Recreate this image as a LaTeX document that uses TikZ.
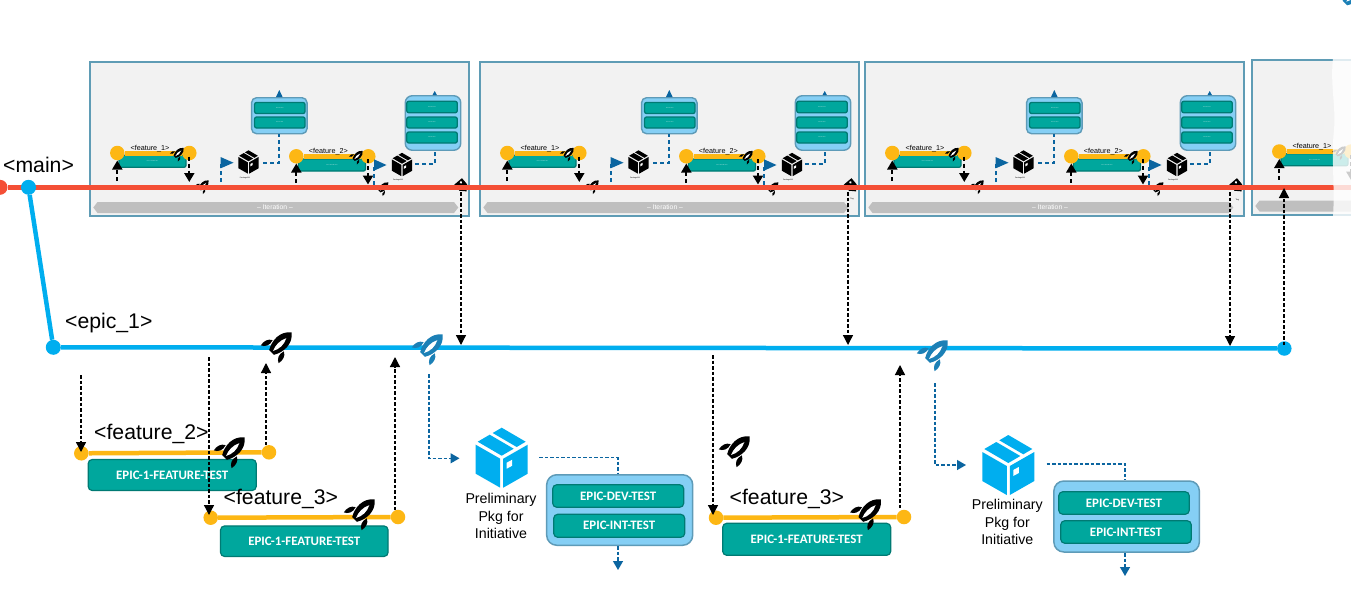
\documentclass[tikz,border=0pt]{standalone}
\usepackage{fontspec}
\setmainfont{Liberation Sans}
\newfontfamily\carlitofam{Carlito}
\usetikzlibrary{arrows.meta}
\definecolor{redline}{HTML}{F44F36}
\definecolor{epicblue}{HTML}{00AEEF}
\definecolor{featorange}{HTML}{FDB714}
\definecolor{tealfill}{HTML}{00A79D}
\definecolor{tealedge}{HTML}{007A73}
\definecolor{contfill}{HTML}{85CFF5}
\definecolor{contedge}{HTML}{5E9BB8}
\definecolor{panelfill}{HTML}{F2F2F2}
\definecolor{paneledge}{HTML}{5F9CB5}
\definecolor{barfill}{HTML}{BFBFBF}
\definecolor{flowblue}{HTML}{0B65A0}
\definecolor{rockblue}{HTML}{1C80B6}
\tikzset{
  dot/.style={circle,inner sep=0pt,minimum size=#1},
  tealbig/.style={draw=tealedge,fill=tealfill,line width=1.2pt,rounded corners=4pt,inner sep=0pt,text=white,font=\carlitofam\bfseries\fontsize{12.9}{14}\selectfont},
  tealsmall/.style={draw=tealedge,fill=tealfill,line width=1.3pt,rounded corners=2pt,inner sep=0pt,text=white,font=\fontsize{1}{1}\selectfont},
  contbox/.style={draw=contedge,fill=contfill,rounded corners=#1,inner sep=0pt},
  blackflow/.style={draw=black,line width=1.3pt,dash pattern=on 3.5pt off 2pt,-{Triangle[length=10pt,width=10pt]}},
  blacksmall/.style={draw=black,line width=2pt,dash pattern=on 4pt off 3pt,-{Triangle[length=9pt,width=10pt]}},
  blueflow/.style={draw=flowblue,line width=1.3pt,dash pattern=on 3.5pt off 2pt,-{Triangle[length=9pt,width=10pt]}},
  blueplain/.style={draw=flowblue,line width=1.3pt,dash pattern=on 3.5pt off 2pt},
  bluesmall/.style={draw=flowblue,line width=1.7pt,dash pattern=on 4pt off 3pt},
  biglabel/.style={inner sep=0pt,font=\fontsize{21.2}{23}\selectfont},
  smalllabel/.style={inner sep=0pt,font=\fontsize{7.2}{8}\selectfont},
  pkglabel/.style={align=center,inner sep=0pt,font=\fontsize{14.2}{17.5}\selectfont},
  itertext/.style={inner sep=0pt,text=white,font=\fontsize{6.8}{8}\selectfont},
  pics/rocket/.style={code={
    \fill[#1] (0,-17) .. controls (9,-10) and (8,2) .. (3.2,10) -- (-3.2,10) .. controls (-8,2) and (-9,-10) .. (0,-17) -- cycle;
    \fill[white] (0.3,-9.5) .. controls (3.4,-4) and (3,3) .. (0,8) .. controls (-2.4,3) and (-2.6,-4) .. (0.3,-9.5) -- cycle;
    \fill[#1] (-7.5,1) .. controls (-12,3) and (-13,8) .. (-12,12.5) .. controls (-8.5,11) and (-5.5,7) .. (-7.5,1) -- cycle;
    \fill[#1] (7.5,1) .. controls (12,3) and (13,8) .. (12,12.5) .. controls (8.5,11) and (5.5,7) .. (7.5,1) -- cycle;
  }},
  pics/cube/.style={code={
    \fill[#1] (0,-30) -- (24,-16) -- (15,-10.7) -- (-9,-24.7) -- cycle;
    \fill[#1] (-12,-23) -- (12,-9) -- (0,-2) -- (-24,-16) -- cycle;
    \fill[#1] (-26,-13) -- (-1.5,1) -- (-1.5,30) -- (-26,16) -- cycle;
    \fill[#1] (26,-13) -- (1.5,1) -- (1.5,30) -- (26,16) -- cycle;
    \fill[white] (5,5) -- (10.5,2) -- (10.5,8) -- (5,11) -- cycle;
  }},
  pics/tagmark/.style={code={
    \fill[black] (-6,-5) -- (2,-5) -- (7,0) -- (2,5) -- (-6,5) -- cycle;
    \fill[white] (-3.5,-1.5) circle (1.3);
  }},
  pics/panel/.style={code={
    \node[draw=paneledge,fill=panelfill,line width=1.6pt,minimum width=379.5pt,minimum height=154.5pt,inner sep=0pt] (-frame) at (279.5,139) {};
    \fill[barfill] (93.3,207.5) -- (97.5,202) -- (454,202) -- (458.3,207.5) -- (454,213) -- (97.5,213) -- cycle;
    \node[itertext] (-iter) at (275,207.5) {-- Iteration --};
    \node[tealsmall,minimum width=67pt,minimum height=12pt] (-t1) at (152.5,161.3) {EPIC-1-FEATURE-TEST};
    \node[dot=14.5pt,fill=featorange] (-a1) at (117.3,153) {};
    \node[dot=14.5pt,fill=featorange] (-b1) at (189.3,153) {};
    \draw[featorange,line width=5pt] (-a1) -- (-b1);
    \node[smalllabel] (-l1) at (150,148.6) {<feature\_1>};
    \coordinate (-u1) at (117.3,181);
    \coordinate (-u1e) at (117.3,160.5);
    \coordinate (-d1) at (189.3,156.5);
    \coordinate (-d1e) at (189.3,182);
    \draw[blacksmall] (-u1) -- (-u1e);
    \draw[blacksmall] (-d1) -- (-d1e);
    \pic[rotate=-45,scale=.47] at (178,153.5) {rocket=black};
    \pic[rotate=-45,scale=.47] at (203,186) {rocket=black};
    \coordinate (-f1) at (221,182);
    \coordinate (-f1c) at (221,162.7);
    \draw[bluesmall] (-f1) -- (-f1c);
    \fill[flowblue] (220.5,157) -- (233.5,162.7) -- (220.5,168.4) -- cycle;
    \pic[scale=.39] at (248.5,162) {cube=black};
    \node[inner sep=0pt,font=\fontsize{1.8}{2}\selectfont] (-k1) at (245,177.8) {Package001};
    \node[contbox=5pt,line width=1.4pt,minimum width=55.5pt,minimum height=36pt] (-c1) at (279.3,115.7) {};
    \node[tealsmall,minimum width=50.5pt,minimum height=11pt] (-c1a) at (279.8,108) {EPIC-DEV-TEST};
    \node[tealsmall,minimum width=50.5pt,minimum height=11pt] (-c1b) at (279.8,122.5) {EPIC-INT-TEST};
    \coordinate (-e1) at (263.3,162.7);
    \draw[bluesmall] (-e1) -- (279.3,162.7) -- (-c1.south);
    \fill[flowblue] (276,97) -- (279.3,90) -- (282.6,97) -- cycle;
    \node[tealsmall,minimum width=67pt,minimum height=12pt] (-t2) at (332,165) {EPIC-1-FEATURE-TEST};
    \node[dot=14.5pt,fill=featorange] (-a2) at (296.3,156.3) {};
    \node[dot=14.5pt,fill=featorange] (-b2) at (368.3,156.3) {};
    \draw[featorange,line width=5pt] (-a2) -- (-b2);
    \node[smalllabel] (-l2) at (328.3,151.6) {<feature\_2>};
    \coordinate (-u2) at (296.3,182.5);
    \coordinate (-u2e) at (296.3,163.5);
    \coordinate (-d2) at (368,159);
    \coordinate (-d2e) at (368,184.5);
    \draw[blacksmall] (-u2) -- (-u2e);
    \draw[blacksmall] (-d2) -- (-d2e);
    \pic[rotate=-45,scale=.47] at (357,156.5) {rocket=black};
    \pic[rotate=-45,scale=.47] at (382.7,188) {rocket=black};
    \coordinate (-f2) at (374,185);
    \coordinate (-f2c) at (374,165);
    \draw[bluesmall] (-f2) -- (-f2c);
    \fill[flowblue] (374,159.3) -- (386.5,165) -- (374,170.7) -- cycle;
    \pic[scale=.39] at (402,164.5) {cube=black};
    \node[inner sep=0pt,font=\fontsize{1.8}{2}\selectfont] (-k2) at (398,180) {Package002};
    \node[contbox=7pt,line width=1.4pt,minimum width=55.5pt,minimum height=54.5pt] (-c2) at (433,123) {};
    \node[tealsmall,minimum width=50.5pt,minimum height=11.5pt] (-c2a) at (432,107) {EPIC-DEV-TEST};
    \node[tealsmall,minimum width=50.5pt,minimum height=11pt] (-c2b) at (432,122.5) {EPIC-INT-TEST};
    \node[tealsmall,minimum width=50.5pt,minimum height=11pt] (-c2c) at (432,137.5) {EPIC-INT-TEST};
    \coordinate (-e2) at (415,164.3);
    \draw[bluesmall] (-e2) -- (434.7,164.3) -- (434.7,150.5);
    \fill[flowblue] (432.5,95) -- (434.7,91) -- (436.9,95) -- cycle;
  }},
  pics/lastpanel/.style={code={
    \node[draw=paneledge,fill=panelfill,line width=1.6pt,minimum width=379.5pt,minimum height=154.5pt,inner sep=0pt] (-frame) at (279.5,139) {};
    \fill[barfill] (93.3,207.5) -- (97.5,202) -- (300,202) -- (300,213) -- (97.5,213) -- cycle;
    \node[tealsmall,minimum width=67pt,minimum height=12pt] (-t1) at (152.5,161.3) {EPIC-1-FEATURE-TEST};
    \node[dot=14.5pt,fill=featorange] (-a1) at (117.3,153) {};
    \node[dot=14.5pt,fill=featorange] (-b1) at (189.3,153) {};
    \draw[featorange,line width=5pt] (-a1) -- (-b1);
    \node[smalllabel] (-l1) at (150,148.6) {<feature\_1>};
    \coordinate (-u1) at (117.3,181);
    \coordinate (-u1e) at (117.3,160.5);
    \coordinate (-d1) at (189.3,156.5);
    \coordinate (-d1e) at (189.3,182);
    \draw[blacksmall] (-u1) -- (-u1e);
    \draw[blacksmall] (-d1) -- (-d1e);
    \pic[rotate=-45,scale=.47] at (178,153.5) {rocket=black};
  }}
}
\begin{document}
\begin{tikzpicture}[x=1pt,y=-1pt,line cap=butt]
\clip (0,0) rectangle (1351,613);
\fill[white] (0,0) rectangle (1351,613);
\pic[rotate=-45] at (1352,-4) {rocket=rockblue};
\pic (pa) at (0,0) {panel};
\begin{scope}[shift={(390,0)}] \pic (pb) at (0,0) {panel}; \end{scope}
\begin{scope}[shift={(775,0)}] \pic (pc) at (0,0) {panel}; \end{scope}
\begin{scope}[shift={(1162,-1.5)}] \pic (pd) at (0,0) {lastpanel}; \end{scope}
\pic[rotate=-50] at (462,186) {tagmark};
\pic[rotate=-50] at (851.5,186) {tagmark};
\pic[rotate=-50] at (1237,186) {tagmark};
\node[inner sep=0pt,font=\fontsize{2}{2}\selectfont] (tg2) at (852,199.5) {Tag};
\node[inner sep=0pt,font=\fontsize{2}{2}\selectfont] (tg3) at (1237.3,200) {Tag};
\node[dot=15pt,fill=redline] (mstart) at (0,187.3) {};
\coordinate (mend) at (1351,187.3);
\draw[redline,line width=5pt] (mstart) -- (mend);
\node[biglabel,anchor=west] (mainl) at (3,165) {<main>};
\node[dot=15pt,fill=epicblue] (es) at (28.5,187.3) {};
\node[dot=15pt,fill=epicblue] (ec) at (53.3,347.3) {};
\node[dot=14.5pt,fill=epicblue] (ee) at (1284.3,348.5) {};
\draw[epicblue,line width=4.5pt] (es) -- (ec);
\draw[epicblue,line width=4.5pt] (ec) -- (ee);
\node[biglabel,anchor=west] (epicl) at (65,323) {<epic\_1>};
\coordinate (s1) at (461,192); \coordinate (s1e) at (461,345);
\coordinate (s2) at (848,192); \coordinate (s2e) at (848,345);
\coordinate (s3) at (1230,192); \coordinate (s3e) at (1230,346);
\draw[blackflow] (s1) -- (s1e);
\draw[blackflow] (s2) -- (s2e);
\draw[blackflow] (s3) -- (s3e);
\coordinate (s4) at (1284,345); \coordinate (s4e) at (1284,188);
\draw[blackflow] (s4) -- (s4e);
\node[tealbig,minimum width=168pt,minimum height=31pt] (ft2) at (172.2,475) {EPIC-1-FEATURE-TEST};
\node[dot=14.5pt,fill=featorange] (f2a) at (81.3,453.3) {};
\node[dot=14.5pt,fill=featorange] (f2b) at (269,452.3) {};
\draw[featorange,line width=4.5pt] (f2a) -- (f2b);
\node[biglabel,anchor=west] (f2l) at (94,434) {<feature\_2>};
\pic[rotate=-45,scale=1.05] at (232,450) {rocket=black};
\node[tealbig,minimum width=167.5pt,minimum height=30.5pt] (ft3) at (304.3,541.2) {EPIC-1-FEATURE-TEST};
\node[dot=14.5pt,fill=featorange] (f3a) at (210.7,517.7) {};
\node[dot=14.5pt,fill=featorange] (f3b) at (398,517) {};
\draw[featorange,line width=4.5pt] (f3a) -- (f3b);
\node[biglabel,anchor=west] (f3l) at (223.5,499) {<feature\_3>};
\pic[rotate=-45,scale=1.05] at (362,512) {rocket=black};
\pic[rotate=-45,scale=1.05] at (279,345) {rocket=black};
\coordinate (a1) at (81,375); \coordinate (a1e) at (81,452);
\coordinate (a2) at (209,357); \coordinate (a2e) at (209,515);
\coordinate (a3) at (266,445); \coordinate (a3e) at (266,363);
\coordinate (a4) at (395,510); \coordinate (a4e) at (395,357);
\draw[blackflow] (a1) -- (a1e);
\draw[blackflow] (a2) -- (a2e);
\draw[blackflow] (a3) -- (a3e);
\draw[blackflow] (a4) -- (a4e);
\pic[rotate=-45,scale=1.05] at (430,347) {rocket=rockblue};
\pic at (501.7,457.7) {cube=epicblue};
\node[pkglabel] (pkgA) at (501,516) {Preliminary\\Pkg for\\Initiative};
\coordinate (ba) at (429,374); \coordinate (bac) at (429,458.3); \coordinate (bae) at (459.5,458.3);
\draw[blueflow] (ba) -- (bac) -- (bae);
\node[contbox=10pt,line width=1.5pt,minimum width=146pt,minimum height=70.5pt] (contA) at (619.7,510) {};
\node[tealbig,minimum width=131pt,minimum height=22.5pt] (devA) at (618.2,496) {EPIC-DEV-TEST};
\node[tealbig,minimum width=131pt,minimum height=23pt] (intA) at (619.2,525.8) {EPIC-INT-TEST};
\coordinate (oa) at (539.3,457.7); \coordinate (oac) at (618,457.7);
\draw[blueplain] (oa) -- (oac) -- (oac |- contA.north);
\coordinate (da) at (618,546); \coordinate (dae) at (618,570);
\draw[blueflow] (da) -- (dae);
\node[tealbig,minimum width=168pt,minimum height=32pt] (ft3b) at (806.7,539.3) {EPIC-1-FEATURE-TEST};
\node[dot=14.5pt,fill=featorange] (f4a) at (716,517.7) {};
\node[dot=14.5pt,fill=featorange] (f4b) at (904,517) {};
\draw[featorange,line width=4.5pt] (f4a) -- (f4b);
\node[biglabel,anchor=west] (f4l) at (729.5,499) {<feature\_3>};
\pic[rotate=-45,scale=1.05] at (868.3,512) {rocket=black};
\pic[rotate=-45,scale=1.05] at (737,449) {rocket=black};
\coordinate (b1) at (713,355); \coordinate (b1e) at (713,515);
\coordinate (b2) at (900,508); \coordinate (b2e) at (900,365);
\draw[blackflow] (b1) -- (b1e);
\draw[blackflow] (b2) -- (b2e);
\pic[rotate=-45,scale=1.05] at (935,353) {rocket=rockblue};
\pic at (1008.3,465) {cube=epicblue};
\node[pkglabel] (pkgB) at (1007.3,522) {Preliminary\\Pkg for\\Initiative};
\coordinate (bb) at (935,383); \coordinate (bbc) at (935,465); \coordinate (bbe) at (966,465);
\draw[blueflow] (bb) -- (bbc) -- (bbe);
\node[contbox=10pt,line width=1.5pt,minimum width=145.5pt,minimum height=71pt] (contB) at (1126.6,516.5) {};
\node[tealbig,minimum width=130.5pt,minimum height=22.5pt] (devB) at (1124,503) {EPIC-DEV-TEST};
\node[tealbig,minimum width=130.5pt,minimum height=22.5pt] (intB) at (1126,532) {EPIC-INT-TEST};
\coordinate (ob) at (1046.7,464); \coordinate (obc) at (1125,464);
\draw[blueplain] (ob) -- (obc) -- (obc |- contB.north);
\coordinate (db) at (1125,553); \coordinate (dbe) at (1125,576);
\draw[blueflow] (db) -- (dbe);
\fill[white,opacity=.8] (1333,58) .. controls (1330,85) and (1336,105) .. (1334,130) .. controls (1331,155) and (1335,185) .. (1333,218) -- (1351,218) -- (1351,58) -- cycle;
\end{tikzpicture}
\end{document}
